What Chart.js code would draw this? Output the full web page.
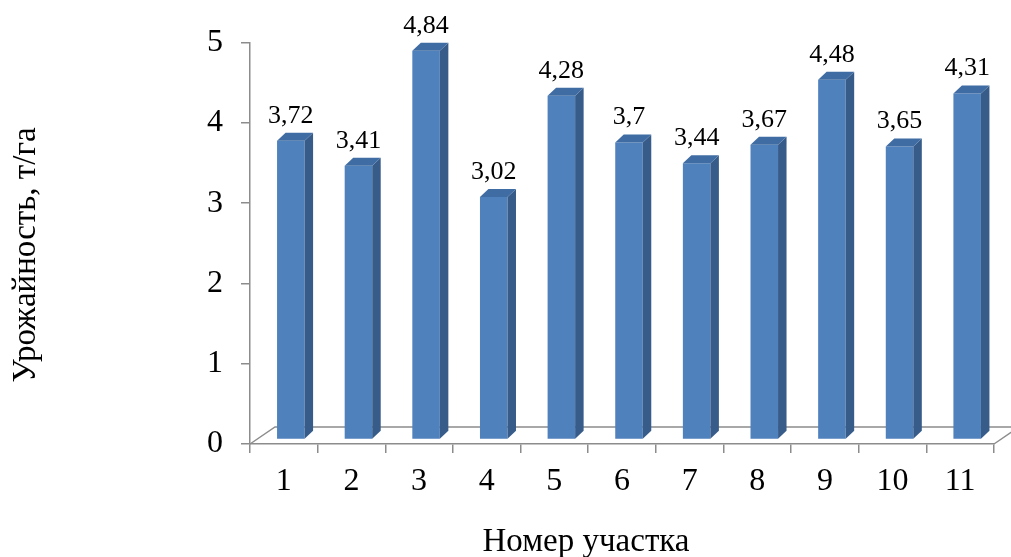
<!DOCTYPE html>
<html lang="ru">
<head>
<meta charset="utf-8">
<title>Урожайность по участкам</title>
<script src="https://cdn.jsdelivr.net/npm/chart.js@4/dist/chart.umd.min.js"></script>
<style>
  html, body { margin: 0; padding: 0; background: #ffffff; }
  canvas { display: block; }
</style>
</head>
<body>
<canvas id="yield" width="1011" height="557"></canvas>
<script>
// Номера участков и урожайность, т/га
const plots = ['1', '2', '3', '4', '5', '6', '7', '8', '9', '10', '11'];
const yieldValues = [3.72, 3.41, 4.84, 3.02, 4.28, 3.7, 3.44, 3.67, 4.48, 3.65, 4.31];
const yTicks = [0, 1, 2, 3, 4, 5];

const yTitle = 'Урожайность, т/га';
const xTitle = 'Номер участка';

const SERIF = "'Liberation Serif', 'Times New Roman', serif";
const AXIS_GREY = '#8c8c8c';
const FRONT = '#4f81bd';
const SIDE = '#375c8a';
const TOP = '#3f6ca3';

// floor depth and bar placement within the floor
const FLOOR_DX = 25, FLOOR_DY = -17;
const BAR_SHIFT_X = 7, BAR_SHIFT_Y = -4.5;
const BAR_DX = 8.5, BAR_DY = -8;

const fmt = v => String(v).replace('.', ',');

const pseudo3d = {
  id: 'pseudo3d',
  beforeDatasetsDraw(chart) {
    const { ctx, chartArea: a } = chart;
    // floor outline behind the bars
    ctx.save();
    ctx.strokeStyle = AXIS_GREY;
    ctx.lineWidth = 1.5;
    ctx.beginPath();
    ctx.moveTo(a.left, a.bottom);
    ctx.lineTo(a.left + FLOOR_DX, a.bottom + FLOOR_DY);
    ctx.lineTo(chart.width + 20, a.bottom + FLOOR_DY);
    ctx.moveTo(a.right, a.bottom);
    ctx.lineTo(a.right + FLOOR_DX, a.bottom + FLOOR_DY);
    ctx.stroke();
    ctx.restore();
    // bars stand slightly back from the front edge of the floor
    ctx.save();
    ctx.translate(BAR_SHIFT_X, BAR_SHIFT_Y);
  },
  afterDatasetsDraw(chart) {
    const { ctx } = chart;
    const meta = chart.getDatasetMeta(0);
    meta.data.forEach((bar, i) => {
      const p = bar.getProps(['x', 'y', 'width', 'base'], true);
      const l = p.x - p.width / 2, r = p.x + p.width / 2;
      const t = p.y, b = p.base;
      // side face
      ctx.fillStyle = SIDE;
      ctx.beginPath();
      ctx.moveTo(r, t);
      ctx.lineTo(r + BAR_DX, t + BAR_DY);
      ctx.lineTo(r + BAR_DX, b + BAR_DY);
      ctx.lineTo(r, b);
      ctx.closePath();
      ctx.fill();
      // top face
      ctx.fillStyle = TOP;
      ctx.beginPath();
      ctx.moveTo(l, t);
      ctx.lineTo(l + BAR_DX, t + BAR_DY);
      ctx.lineTo(r + BAR_DX, t + BAR_DY);
      ctx.lineTo(r, t);
      ctx.closePath();
      ctx.fill();
      // value label
      ctx.fillStyle = '#000';
      ctx.font = '26px ' + SERIF;
      ctx.textAlign = 'center';
      ctx.textBaseline = 'alphabetic';
      ctx.fillText(fmt(yieldValues[i]), p.x, t - 18);
    });
    ctx.restore();
  },
  afterDraw(chart) {
    const { ctx } = chart;
    ctx.save();
    ctx.fillStyle = '#000';
    ctx.font = '33px ' + SERIF;
    ctx.textAlign = 'center';
    ctx.textBaseline = 'alphabetic';
    ctx.fillText(xTitle, 586, 551);
    ctx.translate(35, 255);
    ctx.rotate(-Math.PI / 2);
    ctx.fillText(yTitle, 0, 0);
    ctx.restore();
  }
};

new Chart(document.getElementById('yield'), {
  type: 'bar',
  data: {
    labels: plots,
    datasets: [{
      data: yieldValues,
      backgroundColor: FRONT,
      borderWidth: 0,
      categoryPercentage: 1,
      barPercentage: 0.407,
      clip: false
    }]
  },
  options: {
    responsive: false,
    devicePixelRatio: 1,
    animation: false,
    layout: { padding: { left: 0, right: 17, top: 42.5, bottom: 0 } },
    plugins: {
      legend: { display: false },
      tooltip: { enabled: false }
    },
    scales: {
      x: {
        afterFit(scale) { scale.height = 113; },
        grid: {
          offset: true,
          drawOnChartArea: false,
          drawTicks: true,
          tickLength: 9,
          color: AXIS_GREY,
          lineWidth: 1.5
        },
        border: { color: AXIS_GREY, width: 1.5 },
        ticks: {
          color: '#000',
          font: { family: SERIF, size: 32 },
          padding: 9,
          maxRotation: 0
        }
      },
      y: {
        min: 0,
        max: 5,
        afterFit(scale) { scale.width = 250; },
        afterBuildTicks(scale) { scale.ticks = yTicks.map(v => ({ value: v })); },
        grid: {
          drawOnChartArea: false,
          drawTicks: true,
          tickLength: 9,
          color: AXIS_GREY,
          lineWidth: 1.5
        },
        border: { color: AXIS_GREY, width: 1.5 },
        ticks: {
          color: '#000',
          font: { family: SERIF, size: 32 },
          padding: 18
        }
      }
    }
  },
  plugins: [pseudo3d]
});
</script>
</body>
</html>
